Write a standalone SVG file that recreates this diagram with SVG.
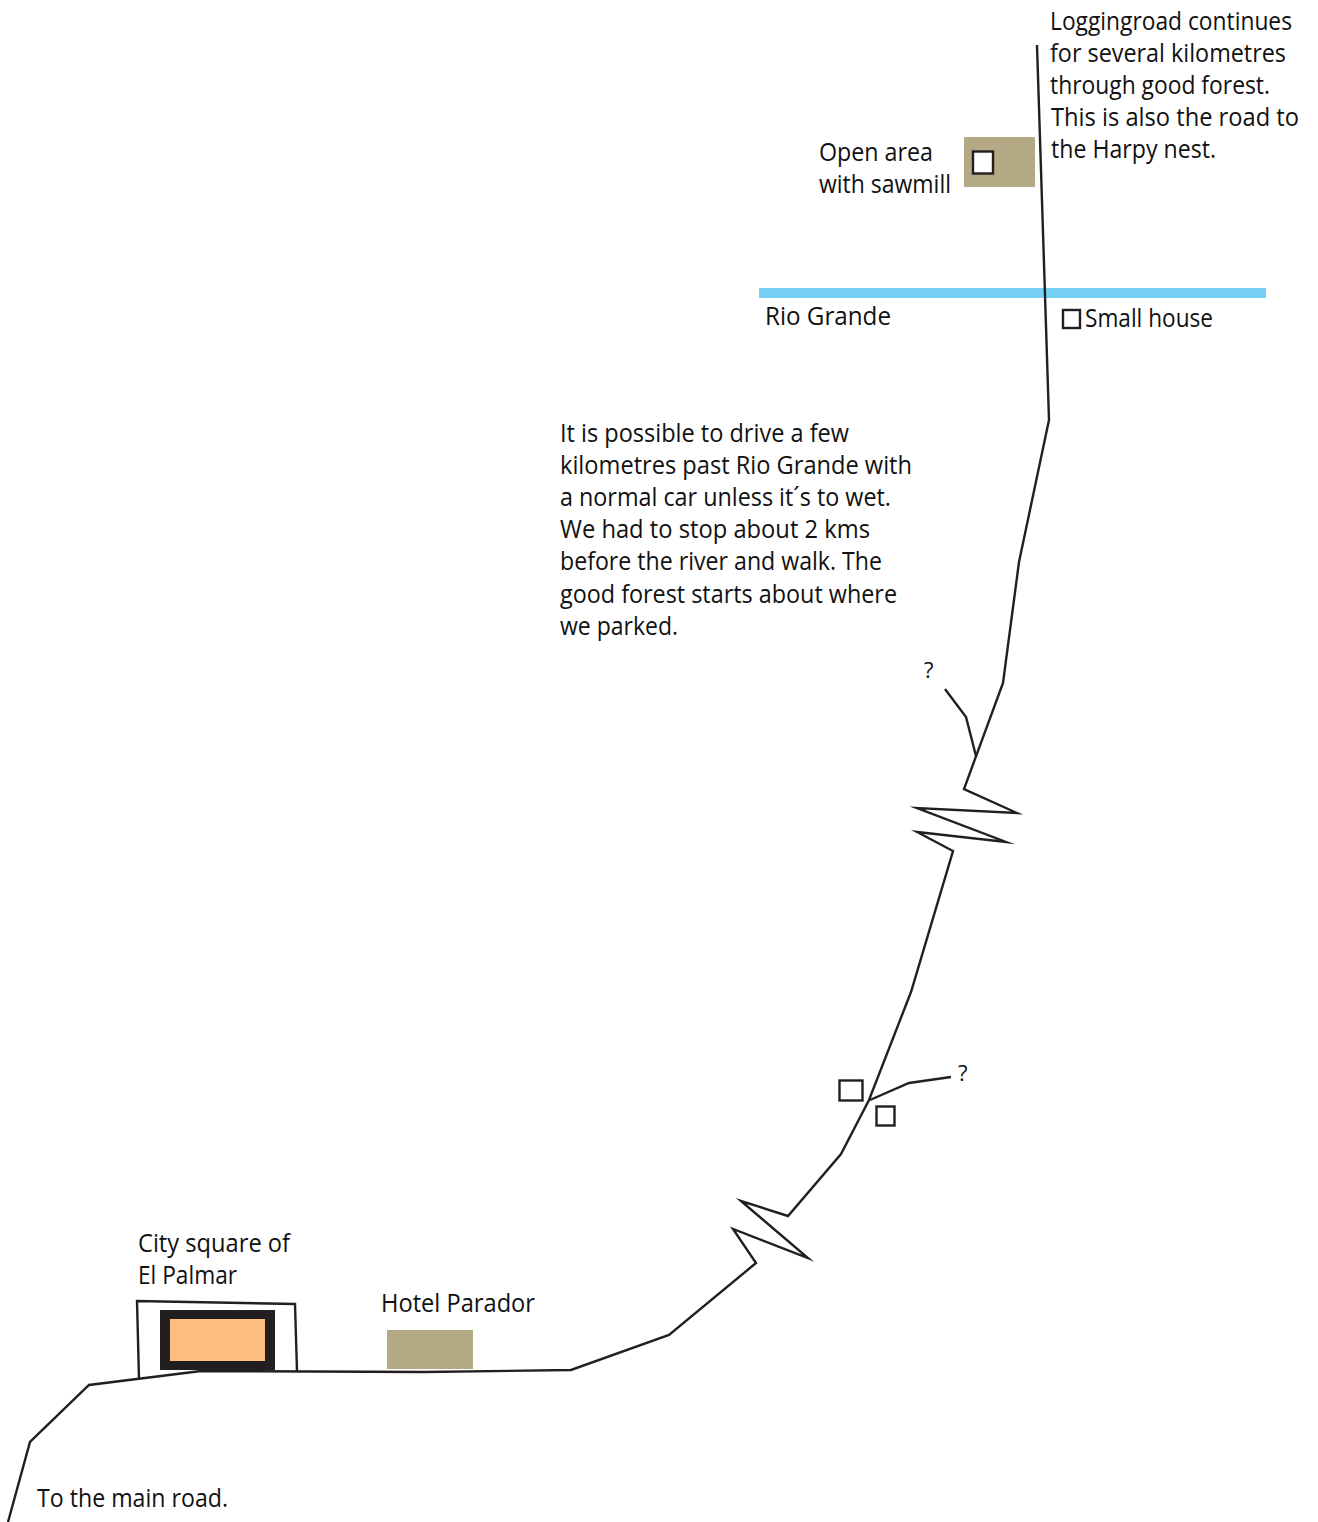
<svg xmlns="http://www.w3.org/2000/svg" width="1318" height="1522" viewBox="0 0 1318 1522">
<style>
text{font-family:"Open Sans","Noto Sans","Liberation Sans",sans-serif;font-size:25px;fill:#111;lengthAdjust:spacingAndGlyphs}
.q{font-size:22px}
.road{fill:none;stroke:#231f20;stroke-width:2.4;stroke-linejoin:miter;stroke-miterlimit:10}
.box{fill:#fff;stroke:#231f20;stroke-width:2.4}
.tan{fill:#b3a984}
</style>
<rect width="1318" height="1522" fill="#fff"/>
<g id="river"><rect x="759" y="288" width="507" height="10" fill="#77d0f5"/><text x="765" y="325" textLength="126" lengthAdjust="spacingAndGlyphs">Rio Grande</text></g>
<g id="sawmill"><rect class="tan" x="964" y="137" width="71" height="50"/><rect class="box" x="973" y="151.500" width="20" height="22"/><text x="819" y="161" textLength="114" lengthAdjust="spacingAndGlyphs">Open area</text><text x="819" y="193" textLength="132" lengthAdjust="spacingAndGlyphs">with sawmill</text></g>
<g id="city-square"><path class="road" d="M139 1379L137 1301L295 1304L297 1371"/><rect x="160" y="1310" width="115" height="60" fill="#231f20"/><rect x="170" y="1319" width="95" height="42" fill="#fcbd7f"/><text x="138" y="1252" textLength="152" lengthAdjust="spacingAndGlyphs">City square of</text><text x="138" y="1284" textLength="99" lengthAdjust="spacingAndGlyphs">El Palmar</text></g>
<g id="hotel"><rect class="tan" x="387" y="1330" width="86" height="39"/><text x="381" y="1312" textLength="154" lengthAdjust="spacingAndGlyphs">Hotel Parador</text></g>
<g id="small-house"><rect class="box" x="1063" y="310" width="17" height="18"/><text x="1085" y="327" textLength="128" lengthAdjust="spacingAndGlyphs">Small house</text></g>
<g id="houses"><rect class="box" x="839.500" y="1080.500" width="23" height="20"/><rect class="box" x="876.500" y="1106.500" width="18" height="19"/></g>
<g id="connectors">
<path class="road" d="M8 1522L30 1442L89 1385L201 1371L424 1372L571 1370L669 1335L756 1263L733 1229L808 1258L741 1201L788 1216L841 1154L869 1100L911 992L953 851L917 832L1006 842L917 808L1017 813L964 789L1003 683L1019 562L1049 420L1037 45"/>
<path class="road" d="M870 1100L909 1083L951 1077"/>
<path class="road" d="M945 689L966 717L976 756"/>
</g>
<g id="notes">
<text x="1050" y="30" textLength="242" lengthAdjust="spacingAndGlyphs">Loggingroad continues</text>
<text x="1050" y="62" textLength="236" lengthAdjust="spacingAndGlyphs">for several kilometres</text>
<text x="1050" y="94" textLength="220" lengthAdjust="spacingAndGlyphs">through good forest.</text>
<text x="1051" y="126" textLength="248" lengthAdjust="spacingAndGlyphs">This is also the road to</text>
<text x="1051" y="158" textLength="165" lengthAdjust="spacingAndGlyphs">the Harpy nest.</text>
<text x="560" y="442" textLength="289" lengthAdjust="spacingAndGlyphs">It is possible to drive a few</text>
<text x="560" y="474" textLength="352" lengthAdjust="spacingAndGlyphs">kilometres past Rio Grande with</text>
<text x="560" y="506" textLength="331" lengthAdjust="spacingAndGlyphs">a normal car unless it´s to wet.</text>
<text x="560" y="538" textLength="310" lengthAdjust="spacingAndGlyphs">We had to stop about 2 kms</text>
<text x="560" y="570" textLength="322" lengthAdjust="spacingAndGlyphs">before the river and walk. The</text>
<text x="560" y="603" textLength="337" lengthAdjust="spacingAndGlyphs">good forest starts about where</text>
<text x="560" y="635" textLength="118" lengthAdjust="spacingAndGlyphs">we parked.</text>
<text x="37" y="1507" textLength="191" lengthAdjust="spacingAndGlyphs">To the main road.</text>
<text class="q" x="924" y="678">?</text>
<text class="q" x="958" y="1081">?</text>
</g>
</svg>
